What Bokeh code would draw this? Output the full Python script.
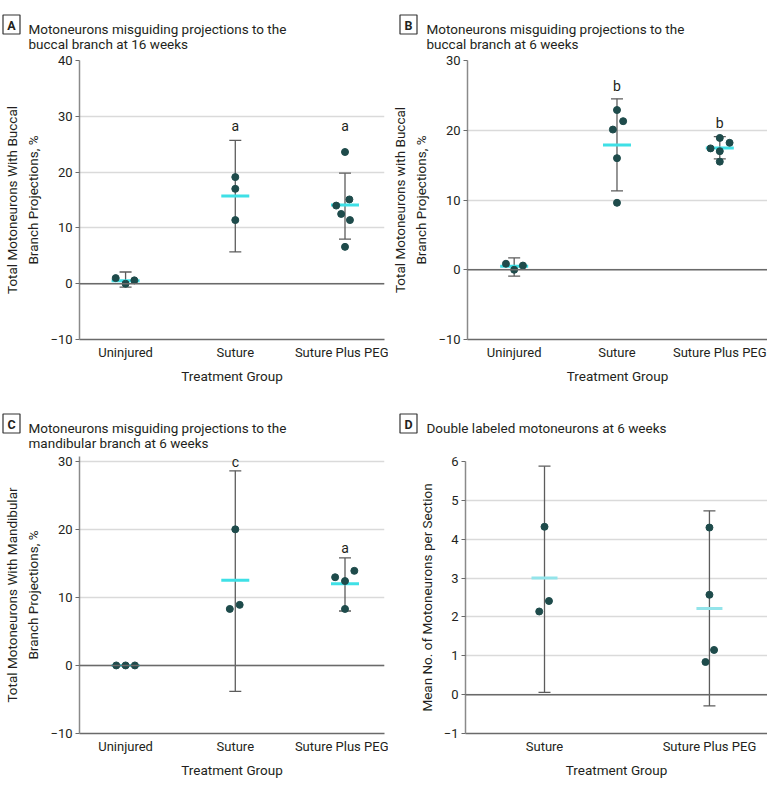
from bokeh.plotting import figure
from bokeh.models import Span, Whisker, ColumnDataSource, FixedTicker, TeeHead, Range1d
from bokeh.core.properties import value
from bokeh.layouts import column, row
from bokeh.embed import file_html
from bokeh.resources import INLINE

FONT = "Roboto"
DOT = "#1e4b4b"
CYAN = "#3fe0e6"
CYAN_D = "#93e4ea"
BAR = "#5c5c5c"
GRID = "#dadada"
TEXT = "#231f20"

groups_3 = ["Uninjured", "Suture", "Suture Plus PEG"]
groups_2 = ["Suture", "Suture Plus PEG"]

# Panel A: buccal branch at 16 weeks
a_vals = [[1.0, 0.0, 0.6], [19.1, 17.0, 11.4], [23.6, 14.0, 15.1, 12.5, 11.4, 6.6]]
a_jit = [[-0.09, 0.0, 0.08], [0.0, 0.0, 0.0], [0.0, -0.08, 0.04, -0.035, 0.045, 0.0]]
a_mean = [0.55, 15.7, 14.1]
a_hi = [2.1, 25.7, 19.8]
a_lo = [-0.6, 5.7, 8.0]
a_sig = ["", "a", "a"]
a_sig_y = [0.0, 28.2, 28.2]
a_ticks = [-10, 0, 10, 20, 30, 40]

# Panel B: buccal branch at 6 weeks
b_vals = [[0.86, 0.0, 0.6], [22.9, 21.3, 20.1, 16.0, 9.6], [18.9, 17.4, 18.2, 17.0, 15.5]]
b_jit = [[-0.08, 0.0, 0.085], [0.0, 0.06, -0.04, 0.0, 0.0], [0.0, -0.09, 0.095, 0.0, 0.0]]
b_mean = [0.5, 17.9, 17.45]
b_hi = [1.7, 24.5, 19.1]
b_lo = [-0.9, 11.3, 15.9]
b_sig = ["", "b", "b"]
b_sig_y = [0.0, 26.3, 21.1]
b_ticks = [-10, 0, 10, 20, 30]

# Panel C: mandibular branch at 6 weeks
c_vals = [[0.0, 0.0, 0.0], [20.0, 8.3, 8.9], [12.96, 12.4, 13.9, 8.3]]
c_jit = [[-0.085, 0.0, 0.085], [0.0, -0.05, 0.04], [-0.09, 0.0, 0.085, 0.0]]
c_mean = [0.0, 12.5, 12.0]
c_hi = [0.0, 28.6, 15.8]
c_lo = [0.0, -3.8, 8.0]
c_sig = ["", "c", "a"]
c_sig_y = [0.0, 29.9, 17.3]
c_ticks = [-10, 0, 10, 20, 30]

# Panel D: double labeled motoneurons at 6 weeks
d_vals = [[4.32, 2.41, 2.14], [4.30, 2.57, 1.15, 0.84]]
d_jit = [[0.0, 0.027, -0.032], [0.0, 0.0, 0.028, -0.024]]
d_mean = [3.0, 2.22]
d_hi = [5.88, 4.73]
d_lo = [0.06, -0.29]
d_sig = ["", ""]
d_sig_y = [0.0, 0.0]
d_ticks = [-1, 0, 1, 2, 3, 4, 5, 6]


def make_header(width, height, letter, lines, box_c, title_x, baselines):
    h = figure(width=width, height=height, output_backend="svg", toolbar_location=None,
               x_range=Range1d(0, width), y_range=Range1d(height, 0),
               x_axis_type=None, y_axis_type=None, min_border=0,
               min_border_left=0, min_border_right=0, min_border_top=0, min_border_bottom=0)
    h.frame_align = False
    h.outline_line_color = None
    h.xgrid.visible = False
    h.ygrid.visible = False
    h.rect(x=[box_c[0]], y=[box_c[1]], width=17, height=19, fill_color="white",
           line_color="#333333", line_width=1.2)
    h.text(x=[box_c[0]], y=[box_c[1] + 0.5], text=[letter], text_font=value(FONT),
           text_font_size="12.5px", text_font_style="bold", text_color=TEXT,
           text_align="center", text_baseline="middle")
    h.text(x=[title_x] * len(lines), y=baselines, text=lines, text_font=value(FONT),
           text_font_size="13.5px", text_color=TEXT, text_align="left",
           text_baseline="alphabetic")
    return h


def make_panel(ylabel, groups, vals, jit, mean, hi, lo, sig, sig_y,
               yr, yticks, xr, size, borders, cyan, dash_size):
    width, height = size
    bl, br, bt, bb = borders
    p = figure(width=width, height=height, output_backend="svg", toolbar_location=None,
               x_range=Range1d(*xr), y_range=Range1d(*yr),
               min_border_left=bl, min_border_right=br,
               min_border_top=bt, min_border_bottom=bb)
    p.outline_line_color = None
    p.xgrid.grid_line_color = None
    p.ygrid.grid_line_color = GRID
    p.ygrid.grid_line_width = 1.5
    p.yaxis.ticker = FixedTicker(ticks=yticks)
    p.xaxis.ticker = FixedTicker(ticks=list(range(len(groups))))
    p.xaxis.major_label_overrides = {i: g for i, g in enumerate(groups)}
    for ax in (p.xaxis, p.yaxis):
        ax.major_label_text_font = FONT
        ax.major_label_text_font_size = "13px"
        ax.major_label_text_color = TEXT
        ax.axis_label_text_font = FONT
        ax.axis_label_text_font_size = "13.5px"
        ax.axis_label_text_font_style = "normal"
        ax.axis_label_text_color = TEXT
        ax.minor_tick_line_color = None
    p.xaxis.axis_label = "Treatment Group"
    p.xaxis.axis_line_color = "#6a6a6a"
    p.xaxis.axis_line_width = 1.5
    p.xaxis.major_tick_line_color = None
    p.xaxis.major_tick_out = 0
    p.xaxis.major_tick_in = 0
    p.xaxis.major_label_standoff = 5
    p.xaxis.axis_label_standoff = 5
    p.yaxis.axis_label = ylabel
    p.yaxis.axis_label_text_line_height = 1.35
    p.yaxis.axis_line_color = "#8a8a8a"
    p.yaxis.axis_line_width = 1.5
    p.yaxis.major_tick_line_color = "#6a6a6a"
    p.yaxis.major_tick_out = 4
    p.yaxis.major_tick_in = 0
    p.yaxis.major_label_standoff = 3
    p.yaxis.axis_label_standoff = 6

    p.add_layout(Span(location=0, dimension="width", line_color="#6a6a6a", line_width=1.5))

    xs, ys = [], []
    for i, (vs, js) in enumerate(zip(vals, jit)):
        for v, j in zip(vs, js):
            xs.append(i + j)
            ys.append(v)
    cats = list(range(len(groups)))

    p.scatter(x=cats, y=mean, marker="dash", size=dash_size, line_width=3, line_color=cyan)
    src = ColumnDataSource(dict(base=cats, upper=hi, lower=lo))
    w = Whisker(source=src, base="base", upper="upper", lower="lower", dimension="height",
                line_color=BAR, line_width=1.3,
                upper_head=TeeHead(size=12, line_color=BAR, line_width=1.3),
                lower_head=TeeHead(size=12, line_color=BAR, line_width=1.3))
    p.add_layout(w)
    p.scatter(x=xs, y=ys, size=7, color=DOT, line_color=DOT)

    sx = [c for c, s in zip(cats, sig) if s]
    sy = [y for y, s in zip(sig_y, sig) if s]
    st = [s for s in sig if s]
    if st:
        p.text(x=sx, y=sy, text=st, text_font=value(FONT), text_font_size="14px",
               text_color=TEXT, text_align="center", text_baseline="middle")
    return p


hA = make_header(388, 53, "A", ["Motoneurons misguiding projections to the",
                                "buccal branch at 16 weeks"], (11, 24), 28, [28, 43])
pA = make_panel("Total Motoneurons With Buccal\nBranch Projections, %",
                groups_3, a_vals, a_jit, a_mean, a_hi, a_lo, a_sig, a_sig_y,
                (-10, 40), a_ticks, (-0.42, 2.36), (388, 337), (72, 4, 7, 51), CYAN, 28)

hB = make_header(379, 53, "B", ["Motoneurons misguiding projections to the",
                                "buccal branch at 6 weeks"], (20, 24), 38, [28, 43])
pB = make_panel("Total Motoneurons with Buccal\nBranch Projections, %",
                groups_3, b_vals, b_jit, b_mean, b_hi, b_lo, b_sig, b_sig_y,
                (-10, 30), b_ticks, (-0.454, 2.464), (379, 337), (77, 0, 7, 51), CYAN, 28)

hC = make_header(388, 63, "C", ["Motoneurons misguiding projections to the",
                                "mandibular branch at 6 weeks"], (11, 33), 28, [37.5, 52.5])
pC = make_panel("Total Motoneurons With Mandibular\nBranch Projections, %",
                groups_3, c_vals, c_jit, c_mean, c_hi, c_lo, c_sig, c_sig_y,
                (-10, 30.7), c_ticks, (-0.42, 2.36), (388, 328), (72, 4, 3, 48), CYAN, 28)

hD = make_header(379, 63, "D", ["Double labeled motoneurons at 6 weeks"],
                 (20, 33), 38, [37.5])
pD = make_panel("Mean No. of Motoneurons per Section",
                groups_2, d_vals, d_jit, d_mean, d_hi, d_lo, d_sig, d_sig_y,
                (-1, 6), d_ticks, (-0.479, 1.352), (379, 328), (77, 0, 8, 48), CYAN_D, 26)

layout = column(row(column(hA, pA), column(hB, pB)),
                row(column(hC, pC), column(hD, pD)))
open("out.html", "w").write(file_html(layout, INLINE))
